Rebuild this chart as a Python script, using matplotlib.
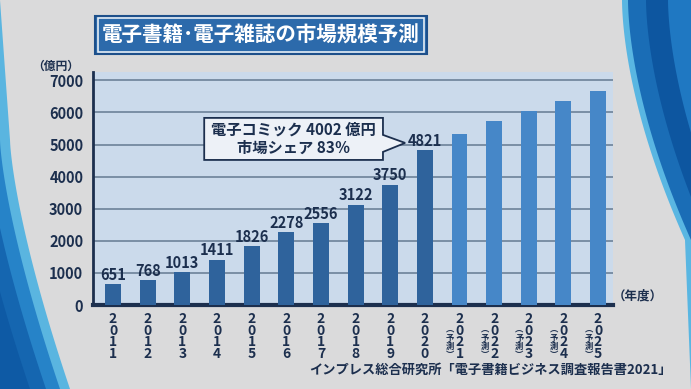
import numpy as np
import matplotlib.pyplot as plt
from matplotlib.patches import Polygon, Rectangle

plt.rcParams['font.family'] = ['Noto Sans CJK JP', 'DejaVu Sans']

# data
years = ['2011', '2012', '2013', '2014', '2015', '2016', '2017', '2018',
         '2019', '2020', '2021', '2022', '2023', '2024', '2025']
values = [651, 768, 1013, 1411, 1826, 2278, 2556, 3122, 3750, 4821,
          5340, 5720, 6060, 6370, 6670]
is_forecast = [False] * 10 + [True] * 5
yticks = [0, 1000, 2000, 3000, 4000, 5000, 6000, 7000]

title = '電子書籍･電子雑誌の市場規模予測'
callout = '電子コミック 4002 億円\n市場シェア 83％'
source = 'インプレス総合研究所「電子書籍ビジネス調査報告書2021」'

navy = '#1c2f4e'
W, H = 691, 389


def fx(x):
    return x / W


def fy(y):
    return 1 - y / H


fig = plt.figure(figsize=(W / 100, H / 100), dpi=100)
fig.patch.set_facecolor('#dadadb')

# background decoration (right and lower-left swooshes)
t = np.linspace(0, 1, 60)
yy = 240 * t
for off, col in [(-6, '#59b6e2'), (0, '#1a6db6'), (18, '#0d56a0'), (40, '#1f78c2')]:
    xx = 628 + off + (W - 628) * t ** 1.7
    pts = [(fx(a), fy(b)) for a, b in zip(xx, yy)] + [(1, 0), (1, 1)]
    fig.patches.append(Polygon(pts, closed=True, transform=fig.transFigure,
                               facecolor=col, edgecolor='none', zorder=0))
yy = 140 + 249 * t
for off, col in [(10, '#5ab5e0'), (0, '#2683c8'), (-14, '#1566b0'), (-30, '#0e5aa5')]:
    xx = 60 * t ** 1.4 + off
    pts = [(fx(a), fy(b)) for a, b in zip(xx, yy)] + [(0, 0), (0, 1)]
    fig.patches.append(Polygon(pts, closed=True, transform=fig.transFigure,
                               facecolor=col, edgecolor='none', zorder=0))

ax = fig.add_axes([fx(93), fy(305), fx(613) - fx(93), fy(72) - fy(305)])
ax.set_facecolor('#cbdaeb')

x = np.arange(len(values))
colors = ['#4687c8' if f else '#2f639c' for f in is_forecast]
ax.bar(x, values, width=0.46, color=colors, zorder=3)

for i, v in enumerate(values):
    if not is_forecast[i]:
        ax.annotate(str(v), (i, v), xytext=(0, 1), textcoords='offset points',
                    ha='center', va='bottom', fontsize=10.5, fontweight='bold',
                    color=navy, zorder=4)

ax.set_xlim(-0.58, 14.43)
ax.set_ylim(0, 7260)
ax.set_yticks(yticks)
ax.set_yticklabels([str(v) for v in yticks], fontsize=10.5, fontweight='bold', color=navy)
ax.yaxis.grid(True, color='#6d8299', lw=1.2, zorder=1)
ax.set_axisbelow(True)
ax.tick_params(axis='y', length=0, pad=7)
ax.tick_params(axis='x', length=0, pad=5)
ax.set_xticks(x)
ax.set_xticklabels(['\n'.join(y) for y in years], fontsize=10, fontweight='bold',
                   color=navy, linespacing=0.78)
for s in ['top', 'right']:
    ax.spines[s].set_visible(False)
ax.spines['left'].set_color(navy)
ax.spines['left'].set_linewidth(2)
ax.spines['bottom'].set_color(navy)
ax.spines['bottom'].set_linewidth(3)

for i in x:
    if is_forecast[i]:
        ax.text(i - 0.27, -650, '︵\n予\n測\n︶', ha='center', va='top',
                fontsize=6, fontweight='bold', color=navy, linespacing=0.85)

# callout box with pointer
bx0, bx1, by0, by1 = 2.63, 7.79, 4520, 5830
poly = [(bx0, by0), (bx0, by1), (bx1, by1), (bx1, 5300), (8.43, 5050),
        (bx1, 4770), (bx1, by0)]
ax.add_patch(Polygon(poly, closed=True, facecolor='#edf1f7', edgecolor=navy,
                     lw=1.3, zorder=5))
ax.text((bx0 + bx1) / 2, (by0 + by1) / 2, callout, ha='center', va='center',
        fontsize=11, fontweight='bold', color=navy, linespacing=1.2, zorder=6)

# title
fig.patches.append(Rectangle((fx(95), fy(54)), fx(427) - fx(95), fy(16) - fy(54),
                             transform=fig.transFigure, facecolor='#2c6aab',
                             edgecolor='#1d4f8a', lw=1.5, zorder=1))
fig.patches.append(Rectangle((fx(97.5), fy(51.5)), fx(424.5) - fx(97.5), fy(18.5) - fy(51.5),
                             transform=fig.transFigure, facecolor='none',
                             edgecolor='#e6edf5', lw=1.2, zorder=2))
fig.text(fx(261), fy(35), title, ha='center', va='center', fontsize=14.8,
         fontweight='bold', color='white', zorder=3)

fig.text(fx(56), fy(66), '（億円）', ha='center', va='center', fontsize=8.5,
         fontweight='bold', color=navy)
fig.text(fx(613), fy(296), '（年度）', ha='left', va='center', fontsize=9,
         fontweight='bold', color=navy)
fig.text(fx(672), fy(370), source, ha='right', va='center', fontsize=9.5,
         fontweight='bold', color=navy)

fig.savefig('out.png', dpi=100, facecolor=fig.get_facecolor())
